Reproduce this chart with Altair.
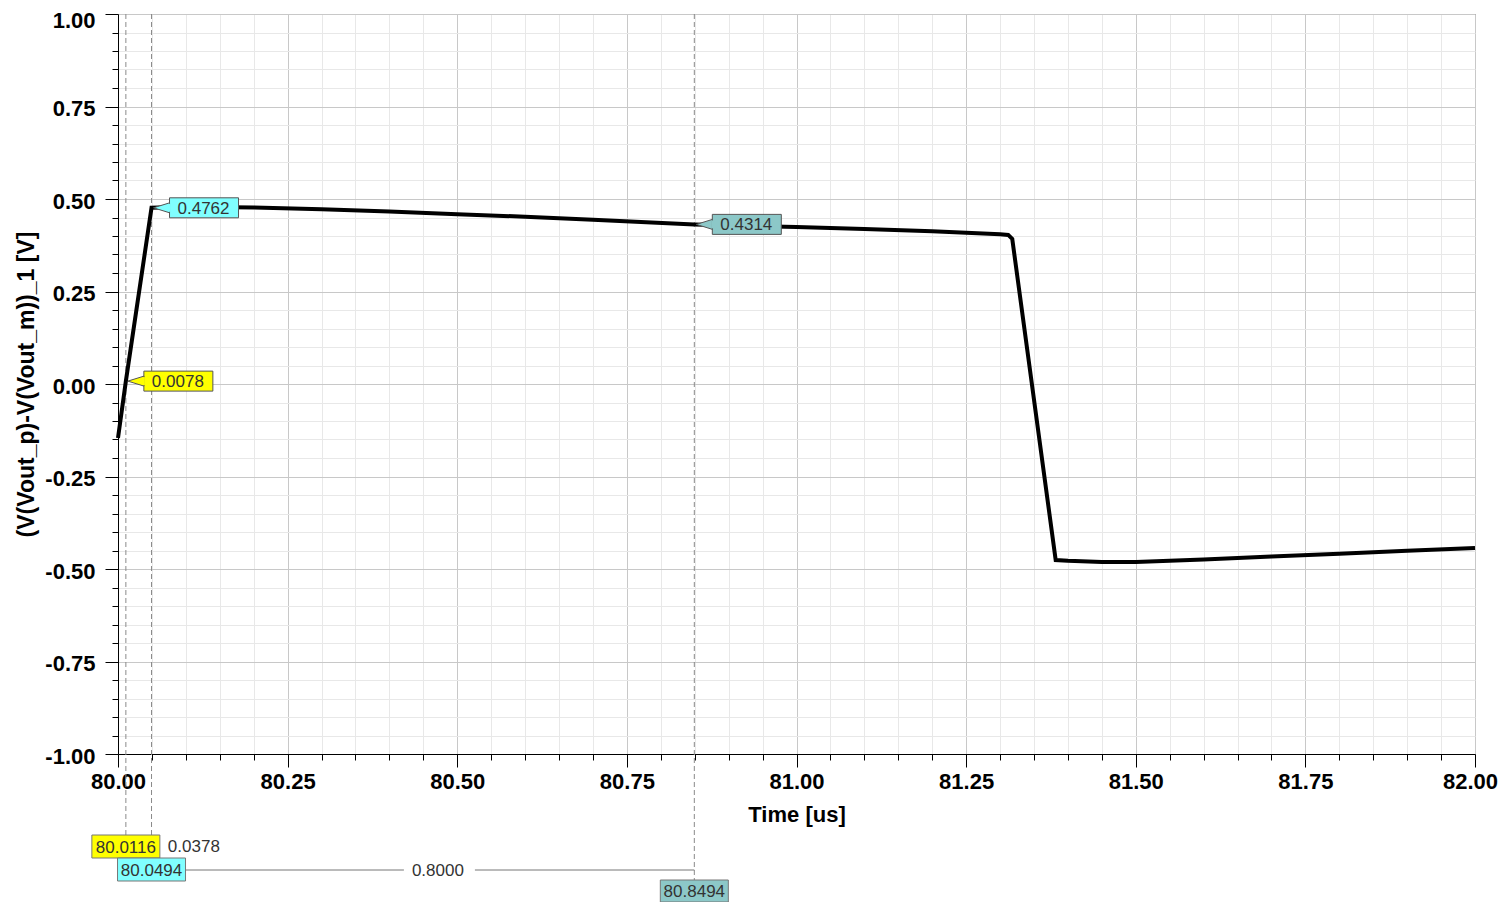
import altair as alt
import pandas as pd

# ---- waveform ----
time_us = [80.000, 80.0116, 80.0494, 80.10, 80.20, 80.30, 80.40, 80.50, 80.60, 80.70,
           80.8494, 81.00, 81.10, 81.20, 81.30, 81.312, 81.318, 81.382, 81.40, 81.45,
           81.50, 81.60, 81.70, 81.80, 81.90, 82.00]
diff_v = [-0.146, 0.0078, 0.4762, 0.479, 0.477, 0.472, 0.466, 0.459, 0.452, 0.444,
          0.4314, 0.424, 0.419, 0.413, 0.405, 0.403, 0.392, -0.476, -0.478, -0.481,
          -0.481, -0.474, -0.466, -0.459, -0.451, -0.443]

# ---- cursors ----
cursor_t = [80.0116, 80.0494, 80.8494]
cursor_v = [0.0078, 0.4762, 0.4314]
cursor_val_labels = ["0.0078", "0.4762", "0.4314"]
cursor_time_labels = ["80.0116", "80.0494", "80.8494"]
cursor_colors = ["#ffff00", "#80ffff", "#8cc8c8"]
delta_labels = ["0.0378", "0.8000"]

x_ticks = [round(80 + 0.05 * i, 2) for i in range(41)]
y_ticks = [round(-1 + 0.05 * i, 2) for i in range(41)]

FONT = "Liberation Sans"
W, H = 1357, 740

wave = pd.DataFrame({"t": time_us, "v": diff_v})
xs = alt.Scale(domain=[80, 82], nice=False, zero=False)
ys = alt.Scale(domain=[-1, 1], nice=False, zero=False)

major = "abs(datum.value*4 - round(datum.value*4)) < 1e-6"
lab = f"{major} ? ((datum.value < 0 ? '-' : '') + format(abs(datum.value), '.2f')) : ''"


def make_axis(title, **kw):
    return alt.Axis(
        title=title, labelExpr=lab,
        labelFont=FONT, labelFontSize=22, labelFontWeight="bold", labelColor="black",
        labelOverlap=False, labelFlush=False, labelBound=False,
        tickSize={"condition": {"test": major, "value": 13}, "value": 6},
        tickColor="black", tickWidth=1, domainColor="black", domainWidth=1,
        grid=True,
        gridColor={"condition": {"test": major, "value": "#c8c8c8"}, "value": "#e8e8e8"},
        gridWidth=1,
        titleFont=FONT, titleFontWeight="bold", titleColor="black",
        **kw,
    )


X_AX = make_axis("Time [us]", values=x_ticks, labelPadding=4, titlePadding=12, titleFontSize=22,
                 labelOffset={"condition": {"test": "datum.value >= 81.99", "value": -5}, "value": 0})
Y_AX = make_axis("(V(Vout_p)-V(Vout_m))_1 [V]", values=y_ticks, labelPadding=10, titlePadding=6,
                 titleFontSize=23,
                 labelOffset={"condition": {"test": "datum.value >= 0.99", "value": 6}, "value": 2})


def X(f):
    return alt.X(f"{f}:Q", scale=xs, axis=X_AX)


def Y(f):
    return alt.Y(f"{f}:Q", scale=ys, axis=Y_AX)


line = alt.Chart(wave).mark_line(color="black", strokeWidth=4, strokeJoin="miter").encode(
    x=X("t"), y=Y("v"))

rule_ends = [821, 844, 866]      # pixel rows where each cursor line stops (layout)
box_rows = [(821, 844), (844, 867), (866, 888)]

layers = []
cursors = []
for i in range(3):
    d = pd.DataFrame({"t": [cursor_t[i]], "v": [cursor_v[i]],
                      "vl": [cursor_val_labels[i]], "tl": [cursor_time_labels[i]]})
    c = alt.Chart(d)
    cursors.append(c)
    layers.append(
        c.mark_rule(color="#8a8a8a", strokeDash=[5, 3], strokeWidth=1).encode(
            x=X("t"), y=alt.value(0), y2=alt.value(rule_ends[i]))
    )

layers.append(line)

tri = "M -1 0 L 1 -0.62 L 1 0.62 Z"
for i in range(3):
    c = cursors[i]
    col = cursor_colors[i]
    layers.append(c.mark_rect(fill=col, stroke="#555", strokeWidth=1,
                              xOffset=18, x2Offset=87, yOffset=-10, y2Offset=10).encode(
        x=X("t"), x2="t:Q", y=Y("v"), y2="v:Q"))
    layers.append(c.mark_point(shape=tri, filled=True, fill=col, stroke="#555", strokeWidth=1,
                               size=256, opacity=1, xOffset=10).encode(
        x=X("t"), y=Y("v")))
    layers.append(c.mark_rect(fill=col, stroke=None, xOffset=17, x2Offset=19,
                              yOffset=-4, y2Offset=4).encode(
        x=X("t"), x2="t:Q", y=Y("v"), y2="v:Q"))
    layers.append(c.mark_text(font=FONT, fontSize=17, color="#333", align="center",
                              baseline="middle", dx=52, dy=1).encode(
        x=X("t"), y=Y("v"), text="vl:N"))

# bottom time labels
for i in range(3):
    c = cursors[i]
    top, bot = box_rows[i]
    layers.append(c.mark_rect(fill=cursor_colors[i], stroke="#777", strokeWidth=1,
                              xOffset=-34, x2Offset=34).encode(
        x=X("t"), x2="t:Q", y=alt.value(top), y2=alt.value(bot)))
    layers.append(c.mark_text(font=FONT, fontSize=17, color="#333", align="center",
                              baseline="middle", dy=1).encode(
        x=X("t"), y=alt.value((top + bot) / 2), text="tl:N"))

# deltas
d1 = pd.DataFrame({"t": [cursor_t[0]], "s": [delta_labels[0]]})
layers.append(alt.Chart(d1).mark_text(font=FONT, fontSize=17, color="#333", align="left",
                                      baseline="middle", dx=42).encode(
    x=X("t"), y=alt.value(833), text="s:N"))

mid = (cursor_t[1] + cursor_t[2]) / 2
d2 = pd.DataFrame({"t": [cursor_t[1]], "m": [mid], "b": [cursor_t[2]], "s": [delta_labels[1]]})
c2 = alt.Chart(d2)
layers.append(c2.mark_rule(color="#777", strokeWidth=1, xOffset=34, x2Offset=-19).encode(
    x=X("t"), x2="m:Q", y=alt.value(856)))
layers.append(c2.mark_rule(color="#777", strokeWidth=1, xOffset=52).encode(
    x=X("m"), x2="b:Q", y=alt.value(856)))
layers.append(c2.mark_text(font=FONT, fontSize=17, color="#333", align="center",
                           baseline="middle", dx=15, dy=1).encode(
    x=X("m"), y=alt.value(856), text="s:N"))

chart = alt.layer(*layers).properties(
    width=W, height=H,
    autosize=alt.AutoSizeParams(type="none"),
    padding={"left": 110, "top": 6, "right": 23, "bottom": 148},
    background="white",
).configure_view(stroke="#555", strokeWidth=1)

chart.save("out.html", embed_options={"renderer": "svg", "actions": False})
